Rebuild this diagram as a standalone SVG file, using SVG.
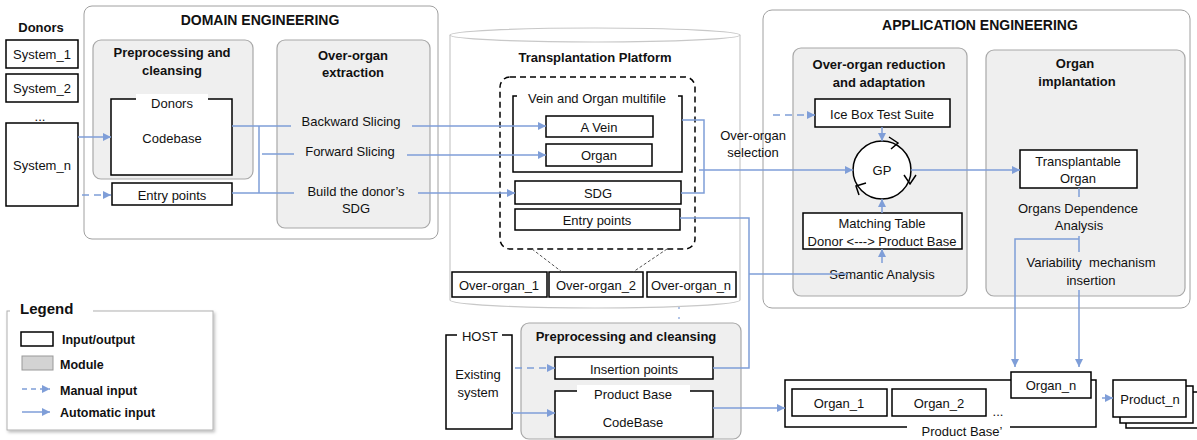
<svg xmlns="http://www.w3.org/2000/svg" width="1197" height="440" viewBox="0 0 1197 440">
<defs>
<marker id="arr" viewBox="0 0 10 10" refX="10" refY="5" markerWidth="9" markerHeight="8" markerUnits="userSpaceOnUse" orient="auto"><path d="M0,0 L10,5 L0,10 z" fill="#7f9ed8"/></marker>
<filter id="sh" x="-5%" y="-5%" width="115%" height="120%"><feDropShadow dx="1.5" dy="2" stdDeviation="1.5" flood-color="#000" flood-opacity="0.25"/></filter>
<style>
text{font-family:"Liberation Sans",Arial,sans-serif;font-size:13px;fill:#111;dominant-baseline:central}
.c{text-anchor:middle}
.b{font-weight:bold}
.h{font-size:14px;font-weight:bold}
.io{fill:#fff;stroke:#000;stroke-width:1.5}
.mod{fill:#efefef;stroke:#a8a8a8;stroke-width:1.2}
.outer{fill:#fff;stroke:#a0a0a0;stroke-width:1}
.ln{fill:none;stroke:#7f9ed8;stroke-width:1.5}
.ar{fill:none;stroke:#7f9ed8;stroke-width:1.5;marker-end:url(#arr)}
.da{fill:none;stroke:#7f9ed8;stroke-width:1.5;stroke-dasharray:7,5;marker-end:url(#arr)}
.wb{fill:#fff;stroke:none}
.lg{font-size:12.5px;font-weight:bold}
</style>
</defs>

<!-- Containers -->
<g id="domain-engineering">
<rect class="outer" x="84" y="6" width="354" height="233" rx="8"/>
<text class="h c" x="260" y="20">DOMAIN ENGINEERING</text>
</g>
<g id="application-engineering">
<rect class="outer" x="763" y="10" width="427" height="298" rx="9"/>
<text class="h c" x="980" y="25">APPLICATION ENGINEERING</text>
</g>
<g id="transplantation-platform">
<path d="M450,35 L450,300 A145,8 0 0 0 740,300 L740,35" fill="#fff" stroke="#c8c8c8" stroke-width="1.2"/>
<ellipse cx="595" cy="35" rx="145" ry="7" fill="#fff" stroke="#c8c8c8" stroke-width="1.2"/>
<text class="b c" x="595" y="57">Transplantation Platform</text>
<rect x="500" y="77" width="195" height="172" rx="10" fill="none" stroke="#000" stroke-width="1.5" stroke-dasharray="6,4"/>
</g>

<!-- Donors -->
<g id="donors">
<text class="b c" x="41" y="27">Donors</text>
<text class="c" x="40" y="116">...</text>
</g>
<g id="system-1"><rect class="io" x="6" y="40" width="72" height="28"/><text class="c" x="42" y="54">System_1</text></g>
<g id="system-2"><rect class="io" x="6" y="74" width="72" height="28"/><text class="c" x="42" y="88">System_2</text></g>
<g id="system-n"><rect class="io" x="6" y="123" width="72" height="83"/><text class="c" x="42" y="165">System_n</text></g>

<!-- Domain modules -->
<g id="preprocessing-domain">
<rect class="mod" x="93" y="40" width="160" height="139" rx="8"/>
<text class="b c" x="172" y="52">Preprocessing and</text>
<text class="b c" x="172" y="70">cleansing</text>
</g>
<g id="donors-codebase">
<rect class="io" x="111" y="99" width="121" height="76"/>
<rect class="wb" x="136" y="94" width="72" height="8"/>
<text class="c" x="172" y="103">Donors</text>
<text class="c" x="172" y="138">Codebase</text>
</g>
<g id="entry-points-domain"><rect class="io" x="112" y="183" width="120" height="22"/><text class="c" x="172" y="195">Entry points</text></g>
<g id="over-organ-extraction">
<rect class="mod" x="277" y="40" width="153" height="188" rx="8"/>
<text class="b c" x="353" y="55">Over-organ</text>
<text class="b c" x="353" y="72">extraction</text>
<text class="c" x="351" y="121">Backward Slicing</text>
<text class="c" x="350" y="151">Forward Slicing</text>
<text class="c" x="356" y="191">Build the donor’s</text>
<text class="c" x="356" y="208">SDG</text>
</g>

<!-- Platform contents -->
<g id="vein-organ-multifile">
<rect class="io" x="513" y="96" width="169" height="76"/>
<rect class="wb" x="517" y="91" width="161" height="9"/>
<text class="c" x="597" y="98">Vein and Organ multifile</text>
</g>
<g id="a-vein"><rect class="io" x="546" y="116" width="107" height="21"/><text class="c" x="599" y="127">A Vein</text></g>
<g id="organ"><rect class="io" x="546" y="144" width="106" height="22"/><text class="c" x="599" y="155">Organ</text></g>
<g id="sdg"><rect class="io" x="515" y="181" width="166" height="23"/><text class="c" x="598" y="193">SDG</text></g>
<g id="entry-points-platform"><rect class="io" x="515" y="209" width="165" height="21"/><text class="c" x="597" y="220">Entry points</text></g>
<g id="over-organ-1"><rect class="io" x="452" y="272" width="95" height="25"/><text class="c" x="499" y="285">Over-organ_1</text></g>
<g id="over-organ-2"><rect class="io" x="549" y="272" width="94" height="25"/><text class="c" x="596" y="285">Over-organ_2</text></g>
<g id="over-organ-n"><rect class="io" x="647" y="272" width="89" height="25"/><text class="c" x="691" y="285">Over-organ_n</text></g>

<!-- Application modules -->
<g id="over-organ-reduction">
<rect class="mod" x="793" y="48" width="174" height="248" rx="8"/>
<text class="b c" x="879" y="64">Over-organ reduction</text>
<text class="b c" x="879" y="82">and adaptation</text>
<text class="c" x="882" y="274">Semantic Analysis</text>
</g>
<g id="ice-box"><rect class="io" x="815" y="99" width="135" height="28"/><text class="c" x="882" y="114">Ice Box Test Suite</text></g>
<g id="gp">
<circle cx="882" cy="170" r="29" fill="#fff" stroke="#000" stroke-width="1.5"/>
<path d="M889,137 L898,143 L891,149 M904,175 L910,184 L916,175 M866,183 L856,186 L859,195" fill="none" stroke="#000" stroke-width="1.5"/>
<text class="c" x="882" y="170">GP</text>
</g>
<g id="matching-table"><rect class="io" x="803" y="213" width="159" height="36"/><text class="c" x="882" y="223">Matching Table</text><text class="c" x="882" y="241">Donor &lt;---&gt; Product Base</text></g>
<g id="organ-implantation">
<rect class="mod" x="986" y="50" width="199" height="246" rx="8"/>
<text class="b c" x="1075" y="63">Organ</text>
<text class="b c" x="1077" y="81">implantation</text>
<text class="c" x="1078" y="208">Organs Dependence</text>
<text class="c" x="1079" y="225">Analysis</text>
<text class="c" x="1091" y="262" xml:space="preserve">Variability  mechanism</text>
<text class="c" x="1091" y="280">insertion</text>
</g>
<g id="transplantable-organ"><rect class="io" x="1020" y="150" width="117" height="38"/><text class="c" x="1078" y="161">Transplantable</text><text class="c" x="1078" y="178">Organ</text></g>
<g id="over-organ-selection"><text class="c" x="753" y="135">Over-organ</text><text class="c" x="753" y="152">selection</text></g>

<!-- Host side -->
<g id="host">
<rect class="io" x="446" y="335" width="66" height="94"/>
<rect class="wb" x="457" y="329" width="45" height="10"/>
<text class="c" x="480" y="336">HOST</text>
<text class="c" x="478" y="374">Existing</text>
<text class="c" x="478" y="392">system</text>
</g>
<g id="preprocessing-host">
<rect class="mod" x="521" y="323" width="220" height="116" rx="8"/>
<text class="b c" x="626" y="336">Preprocessing and cleansing</text>
</g>
<g id="insertion-points"><rect class="io" x="555" y="357" width="158" height="22"/><text class="c" x="634" y="369">Insertion points</text></g>
<g id="product-base">
<rect class="io" x="555" y="391" width="158" height="46"/>
<rect class="wb" x="577" y="385" width="113" height="9"/>
<text class="c" x="633" y="394">Product Base</text>
<text class="c" x="633" y="422">CodeBase</text>
</g>

<!-- Product base prime -->
<g id="product-base-prime">
<rect class="io" x="785" y="380" width="311" height="47"/>
<rect class="wb" x="907" y="424" width="103" height="8"/>
<text class="c" x="962" y="431">Product Base’</text>
<text class="c" x="998" y="411">...</text>
</g>
<g id="organ-1"><rect class="io" x="792" y="389" width="95" height="27"/><text class="c" x="839" y="403">Organ_1</text></g>
<g id="organ-2"><rect class="io" x="892" y="389" width="94" height="27"/><text class="c" x="939" y="403">Organ_2</text></g>
<g id="organ-n"><rect class="io" x="1011" y="372" width="80" height="26"/><text class="c" x="1051" y="385">Organ_n</text></g>
<g id="product-n">
<rect class="io" x="1126" y="392" width="75" height="36"/>
<rect class="io" x="1120" y="386" width="73" height="37"/>
<rect class="io" x="1113" y="380" width="73" height="37"/>
<text class="c" x="1150" y="399">Product_n</text>
</g>

<!-- Legend -->
<g id="legend">
<rect x="7" y="311" width="206" height="119" fill="#fff" stroke="#b0b0b0" stroke-width="1" filter="url(#sh)"/>
<rect class="wb" x="10" y="302" width="83" height="12"/>
<text class="b" x="20" y="308" style="font-size:15px">Legend</text>
<rect x="21" y="332" width="32" height="14" fill="#fff" stroke="#000" stroke-width="1.5"/>
<text class="lg" x="62" y="340">Input/output</text>
<rect x="22" y="356" width="31" height="14" fill="#d3d3d3" stroke="#999" stroke-width="1"/>
<text class="lg" x="60" y="365">Module</text>
<path class="da" d="M22,389 H50" style="stroke-dasharray:5,4"/>
<text class="lg" x="60" y="391">Manual input</text>
<path class="ar" d="M22,412 H50"/>
<text class="lg" x="60" y="413">Automatic input</text>
</g>

<!-- Connectors -->
<g id="connectors">
<path class="ar" d="M78,137 H111"/>
<path class="da" d="M82,195 H111"/>
<path class="ln" d="M232,126 H291 M259,126 V193 M262,154 H294 M232,193 H294"/>
<path class="ar" d="M412,126 H546"/>
<path class="ar" d="M407,155 H546"/>
<path class="ar" d="M418,193 H515"/>
<path class="ln" d="M682,120 H704 V193 H681"/>
<path class="ar" d="M699,170 H853"/>
<path class="ln" d="M680,218 H749 V368 H713 M749,274 H847"/>
<path class="da" d="M773,115 H815"/>
<path class="ar" d="M882,127 V141"/>
<path class="ar" d="M882,213 V199"/>
<path class="ar" d="M882,263 V249"/>
<path class="ar" d="M911,170 H1020"/>
<path class="ln" d="M1079,188 V197 M1079,236 V252"/>
<path class="ar" d="M1079,239 H1015 V367"/>
<path class="ar" d="M1079,290 V367"/>
<path class="ar" d="M713,408 H785"/>
<path class="ar" d="M1102,398 H1113"/>
<path class="da" d="M515,368 H555"/>
<path class="ar" d="M512,413 H555"/>
<path d="M532,249 L562,272 M667,249 L633,272" fill="none" stroke="#555" stroke-width="1" stroke-dasharray="3,2"/>
<path d="M679,307 V325" fill="none" stroke="#7f9ed8" stroke-width="1.2" stroke-dasharray="2,8"/>
</g>
</svg>
